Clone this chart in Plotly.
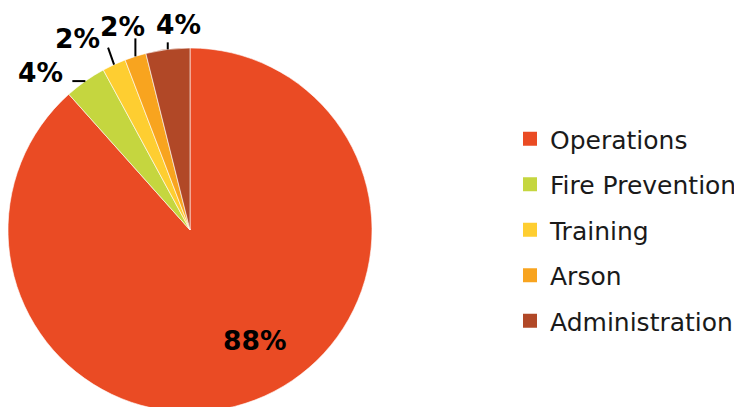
import math

import plotly.graph_objects as go

# Budget share by division
divisions = ["Operations", "Fire Prevention", "Training", "Arson", "Administration"]
shares = [88.4, 3.7, 2.1, 1.9, 3.9]
colours = ["#EA4B24", "#C5D63F", "#FECE31", "#F8A41F", "#B14827"]

# Figure geometry (pixels, figure coordinates; the page adds an 8px body margin)
W, H = 742, 407
CX, CY, R = 182, 222, 182

# Label placement per slice (pixels):
#   line = leader line vector from the slice edge, text = label centre from the edge
#   inner slices use the point at 0.7R on the mid angle instead of the edge
label_style = {
    "Operations": dict(inner=True, text=(19, -9)),
    "Fire Prevention": dict(line=(-13, 0), text=(-45, -9)),
    "Training": dict(line=(-6, -17), text=(-37, -26)),
    "Arson": dict(line=(0, -18), text=(-13, -30)),
    "Administration": dict(line=(0, -7), text=(11, -25)),
}

LABEL_FONT = dict(family="DejaVu Sans", size=26.5, color="#000000")

fig = go.Figure()

fig.add_trace(go.Pie(
    labels=divisions,
    values=shares,
    sort=False,
    direction="clockwise",
    rotation=0,
    marker=dict(colors=colours, line=dict(color="rgba(255,255,255,0.6)", width=1)),
    textinfo="none",
    showlegend=False,
    hoverinfo="label+percent",
    domain=dict(x=[(CX - R) / W, (CX + R) / W], y=[(H - CY - R) / H, (H - CY + R) / H]),
))

# Percent labels (with leader lines outside), placed from each slice's mid angle
total = sum(shares)
start = 0.0
for name, v in zip(divisions, shares):
    span = v / total * 360
    mid = math.radians(start + span / 2)
    start += span
    style = label_style[name]
    rr = 0.7 * R if style.get("inner") else R
    ex = CX + rr * math.sin(mid)
    ey = CY - rr * math.cos(mid)
    if "line" in style:
        lx, ly = style["line"]
        fig.add_shape(
            type="line", xref="paper", yref="paper",
            x0=ex / W, y0=1 - ey / H, x1=(ex + lx) / W, y1=1 - (ey + ly) / H,
            line=dict(color="#000000", width=2),
        )
    tx, ty = style["text"]
    fig.add_annotation(
        xref="paper", yref="paper",
        x=(ex + tx) / W, y=1 - (ey + ty) / H,
        text=f"<b>{round(v / total * 100)}%</b>",
        showarrow=False, xanchor="center", yanchor="middle",
        font=LABEL_FONT,
    )

# Legend entries (one per division so the rows can be spaced out)
for i, (name, c) in enumerate(zip(divisions, colours)):
    fig.add_trace(go.Scatter(
        x=[None], y=[None], mode="markers", name=name,
        marker=dict(symbol="square", size=14, color=c),
        legendgroup=f"g{i}", showlegend=True,
    ))

fig.update_layout(
    width=W, height=H,
    margin=dict(l=0, r=0, t=0, b=0),
    paper_bgcolor="white",
    plot_bgcolor="white",
    xaxis=dict(visible=False),
    yaxis=dict(visible=False),
    legend=dict(
        x=502 / W, y=1 - 108 / H, xanchor="left", yanchor="top",
        font=dict(family="DejaVu Sans", size=25, color="#1a1a1a"),
        tracegroupgap=10,
        bgcolor="rgba(0,0,0,0)",
    ),
)

fig.write_html("out.html")
